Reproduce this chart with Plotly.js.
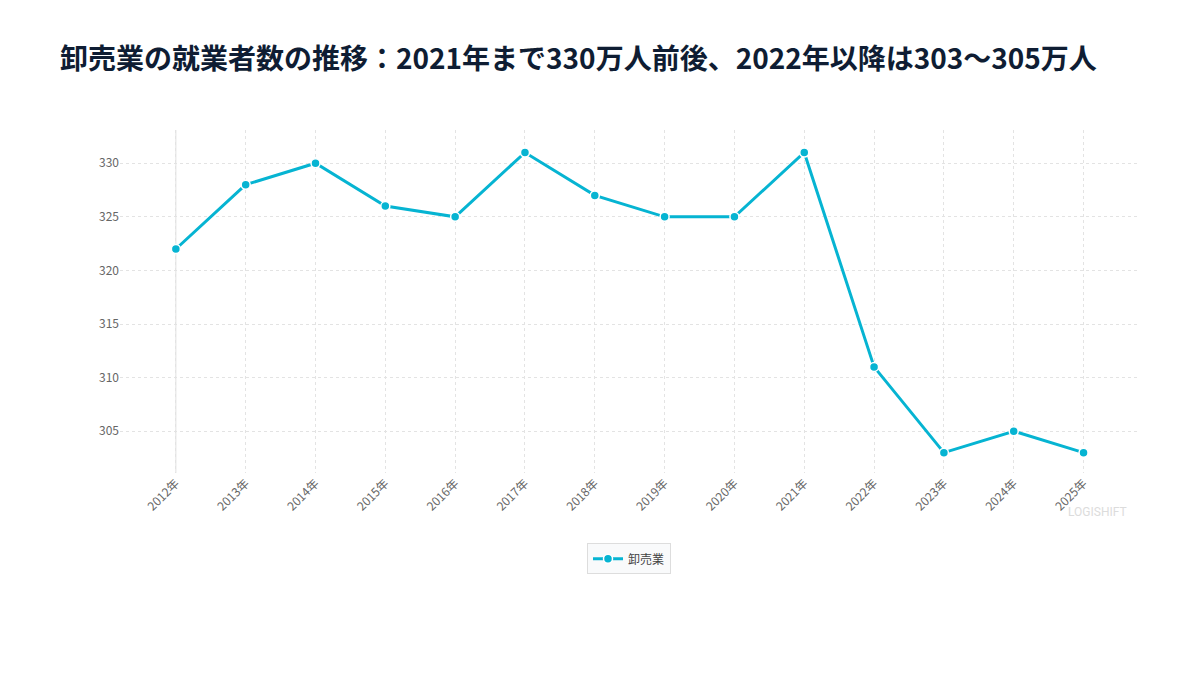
<!DOCTYPE html>
<html>
<head>
<meta charset="utf-8">
<script src="https://cdn.plot.ly/plotly-3.0.1.min.js"></script>
<style>
  html, body { margin: 0; padding: 0; background: #fff; }
  #plot { width: 1200px; height: 675px; }
</style>
</head>
<body>
<div id="plot"></div>
<script>
const years = ['2012年', '2013年', '2014年', '2015年', '2016年', '2017年', '2018年',
  '2019年', '2020年', '2021年', '2022年', '2023年', '2024年', '2025年'];
const wholesale = [322, 328, 330, 326, 325, 331, 327, 325, 325, 331, 311, 303, 305, 303];
const yTicks = [305, 310, 315, 320, 325, 330];

const font = '"Noto Sans CJK JP", "Noto Sans", sans-serif';
const accent = '#06b4d2';

const trace = {
  x: years,
  y: wholesale,
  name: '卸売業',
  type: 'scatter',
  mode: 'lines+markers',
  line: { color: accent, width: 3 },
  marker: { color: accent, size: 9, line: { color: '#ffffff', width: 1.5 } },
};

const layout = {
  width: 1200,
  height: 675,
  paper_bgcolor: '#ffffff',
  plot_bgcolor: '#ffffff',
  font: { family: font, color: '#555555', size: 12 },
  margin: { l: 120, r: 62, t: 130, b: 202 },
  title: {
    text: '<b>卸売業の就業者数の推移：2021年まで330万人前後、2022年以降は303〜305万人</b>',
    font: { family: font, size: 28, color: '#0f1d33' },
    x: 0.05,
    xanchor: 'left',
    y: 0.927,
  },
  xaxis: {
    type: 'category',
    range: [-0.8, 13.78],
    tickangle: -45,
    showgrid: true,
    gridcolor: '#e3e3e3',
    griddash: '3px,3px',
    zeroline: false,
    showline: false,
    ticks: '',
    tickfont: { size: 12, color: '#666666' },
  },
  yaxis: {
    range: [301.1, 333.1],
    tickvals: yTicks,
    showgrid: true,
    gridcolor: '#e3e3e3',
    griddash: '3px,3px',
    zeroline: false,
    showline: false,
    ticks: '',
    tickfont: { size: 12, color: '#666666' },
  },
  shapes: [
    {
      type: 'line',
      xref: 'x',
      yref: 'paper',
      x0: 0,
      x1: 0,
      y0: 0,
      y1: 1,
      layer: 'below',
      line: { color: '#e0e0e0', width: 1 },
    },
  ],
  showlegend: true,
  legend: {
    orientation: 'h',
    x: 0.5,
    xanchor: 'center',
    y: -0.205,
    yanchor: 'top',
    bgcolor: '#f9fafb',
    bordercolor: '#dddddd',
    borderwidth: 1,
    font: { size: 12, color: '#444444' },
  },
  annotations: [
    {
      text: 'LOGISHIFT',
      xref: 'paper',
      yref: 'paper',
      x: 1,
      y: -0.113,
      xshift: -9,
      xanchor: 'right',
      yanchor: 'middle',
      showarrow: false,
      font: { family: 'Roboto, "DejaVu Sans", sans-serif', size: 12, color: '#dcdcdc' },
    },
  ],
};

Plotly.newPlot('plot', [trace], layout, { displayModeBar: false });
</script>
</body>
</html>
